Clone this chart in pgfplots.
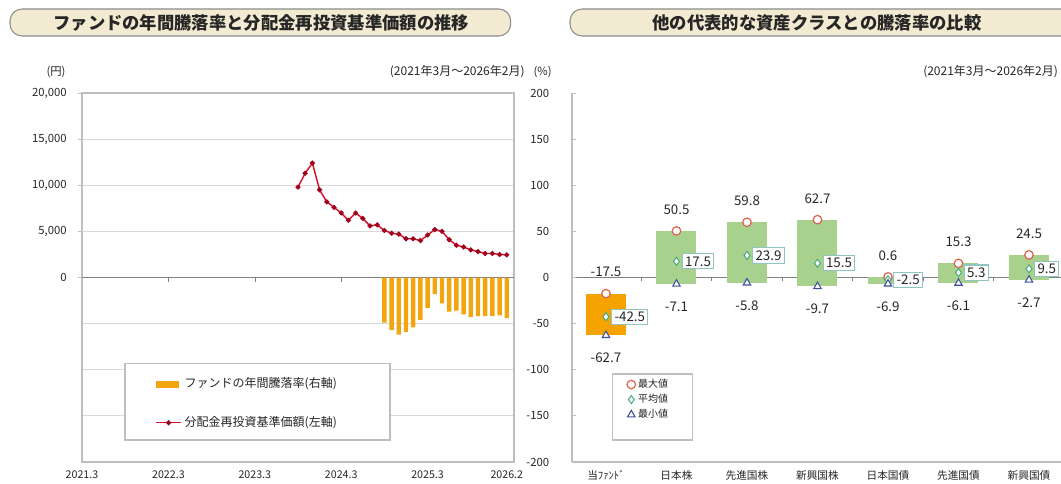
\documentclass[border=0pt]{standalone}
\usepackage{fontspec}
\setmainfont{Noto Sans CJK JP}
\usepackage{pgfplots}
\usepackage{pgfplotstable}
\pgfplotsset{compat=1.18}

\definecolor{gridc}{HTML}{D9D9D9}
\definecolor{axc}{HTML}{BFBFBF}
\definecolor{zeroc}{HTML}{808080}
\definecolor{labc}{HTML}{262626}
\definecolor{barc}{HTML}{F2A50F}
\definecolor{linec}{HTML}{D4142E}
\definecolor{markc}{HTML}{A0001C}
\definecolor{fundc}{HTML}{F5A300}
\definecolor{greenc}{HTML}{A9D18E}
\definecolor{maxc}{HTML}{E0604E}
\definecolor{meanc}{HTML}{4DAE7E}
\definecolor{minc}{HTML}{3F4FA0}
\definecolor{boxc}{HTML}{8FC4C0}
\definecolor{titlec}{HTML}{F3EAD2}
\definecolor{titleb}{HTML}{8C8C8C}

% monthly index: 0 = 2021.3, 59 = 2026.2
\pgfplotstableread{
m v
30 9800
31 11300
32 12400
33 9500
34 8200
35 7600
36 7000
37 6200
38 7000
39 6400
40 5600
41 5700
42 5100
43 4800
44 4700
45 4200
46 4200
47 4000
48 4600
49 5200
50 5000
51 4100
52 3500
53 3300
54 3000
55 2800
56 2600
57 2600
58 2500
59 2450
}\navtable

\pgfplotstableread{
m r
42 -49
43 -57
44 -62
45 -59
46 -54
47 -46
48 -33
49 -18
50 -28
51 -37
52 -36
53 -40
54 -43
55 -42
56 -42
57 -42
58 -41
59 -44
}\bartable

\pgfplotstableread{
x max mean min
0 -17.5 -42.5 -62.7
1 50.5 17.5 -7.1
2 59.8 23.9 -5.8
3 62.7 15.5 -9.7
4 0.6 -2.5 -6.9
5 15.3 5.3 -6.1
6 24.5 9.5 -2.7
}\cmptable

\begin{document}
\begin{tikzpicture}
\path[use as bounding box] (0,0) rectangle (795.75pt,-363pt);

% titles
\draw[titleb, fill=titlec, line width=0.8pt, rounded corners=9pt]
  (7.5pt,-6.75pt) rectangle (383pt,-27pt);
\node[font=\fontsize{13}{15}\selectfont\bfseries, text=labc] at (196pt,-16.9pt)
  {ファンドの年間騰落率と分配金再投資基準価額の推移};
\draw[titleb, fill=titlec, line width=0.8pt, rounded corners=9pt]
  (427.5pt,-6.75pt) rectangle (815pt,-27pt);
\node[font=\fontsize{13}{15}\selectfont\bfseries, text=labc] at (612.75pt,-16.9pt)
  {他の代表的な資産クラスとの騰落率の比較};

\node[font=\fontsize{8.5}{10}\selectfont, text=labc] at (42pt,-54pt) {(円)};
\node[font=\fontsize{9}{10}\selectfont, text=labc, anchor=east] at (397pt,-54pt) {(2021年3月～2026年2月)};
\node[font=\fontsize{8.5}{10}\selectfont, text=labc] at (407pt,-54pt) {(\%)};
\node[font=\fontsize{9}{10}\selectfont, text=labc, anchor=east] at (797pt,-54pt) {(2021年3月～2026年2月)};

% left chart: percent axis with bars
\begin{axis}[
  at={(61.5pt,-346.5pt)}, anchor=south west,
  scale only axis, width=324pt, height=276.75pt,
  xmin=0, xmax=60, ymin=-200, ymax=200,
  axis line style={draw=axc, line width=0.8pt},
  ytick={-200,-150,...,200}, ytick pos=right, yticklabel pos=right,
  yticklabel style={anchor=east, xshift=30pt, font=\fontsize{8.5}{10}\selectfont},
  ymajorgrids, major grid style={gridc, line width=0.7pt},
  major tick length=0pt,
  xtick={0,12,24,36,48,59},
  xticklabels={2021.3,2022.3,2023.3,2024.3,2025.3,2026.2},
  xticklabel style={yshift=-3pt, font=\fontsize{8}{10}\selectfont},
  tick label style={text=labc},
  /pgf/number format/assume math mode=true,
  extra y ticks={0}, extra y tick labels={},
  extra y tick style={major grid style={zeroc, line width=0.9pt}},
]
\addplot[ybar, bar width=3.3pt, fill=barc, draw=none] table[x=m, y=r]{\bartable};
\pgfplotsinvokeforeach{12,24,36}{\draw[zeroc] (axis cs:#1,0) -- ([yshift=-3pt]axis cs:#1,0);}
\end{axis}

% left chart: yen axis with line
\begin{axis}[
  at={(61.5pt,-346.5pt)}, anchor=south west,
  scale only axis, width=324pt, height=276.75pt,
  xmin=0, xmax=60, ymin=-20000, ymax=20000,
  axis line style={draw=none}, xtick=\empty,
  ytick={0,5000,...,20000}, ytick pos=left,
  scaled y ticks=false,
  /pgf/number format/1000 sep={,},
  /pgf/number format/assume math mode=true,
  tick align=outside, major tick length=3pt, tick style={axc, line width=0.7pt},
  yticklabel style={xshift=-5pt},
  tick label style={font=\fontsize{8.5}{10}\selectfont, text=labc},
  legend style={at={(0.169,0.236)}, anchor=north west, draw=none, fill=none,
    font=\fontsize{9}{10}\selectfont, text=labc, row sep=16pt, inner sep=0pt},
  legend cell align=left,
]
\draw[axc, line width=0.8pt, fill=white] (rel axis cs:0.0995,0.268) rectangle (rel axis cs:0.713,0.0596);
\addlegendimage{legend image code/.code={\fill[barc] (0pt,-2.2pt) rectangle (17pt,2.2pt);}}
\addlegendentry{ファンドの年間騰落率(右軸)}
\addplot[linec, line width=1.1pt, mark=*, mark size=1.3pt, mark options={fill=markc, draw=markc},
  legend image code/.code={\draw[linec, line width=1.1pt] (0pt,0pt) -- (19pt,0pt);
    \fill[markc] (9.5pt,0pt) circle (1.3pt);}]
  table[x=m, y=v]{\navtable};
\addlegendentry{分配金再投資基準価額(左軸)}
\end{axis}

% right chart
\begin{axis}[
  at={(429pt,-346.5pt)}, anchor=south west,
  scale only axis, width=366.75pt, height=276.75pt,
  xmin=-0.482, xmax=6.454, ymin=-200, ymax=200,
  axis x line*=bottom, axis y line*=left,
  axis line style={draw=axc, line width=0.8pt, -},
  ytick={-200,-150,...,200}, yticklabels={},
  tick align=inside, major tick length=3pt, ytick style={axc, line width=0.7pt},
  xtick={0,...,6},
  xticklabels={当ﾌｧﾝﾄﾞ,日本株,先進国株,新興国株,日本国債,先進国債,新興国債},
  xtick style={draw=none},
  xticklabel style={yshift=-3pt, font=\fontsize{8}{10}\selectfont, text=labc},
  extra y ticks={0}, extra y tick labels={},
  extra y tick style={grid=major, major grid style={zeroc, line width=0.9pt}},
  point meta=explicit symbolic,
  legend style={at={(0.112,0.232)}, anchor=north west, draw=none, fill=none,
    font=\fontsize{7.5}{9}\selectfont, text=labc, row sep=-0.5pt, inner sep=0pt},
  legend cell align=left,
  clip=false,
]
\pgfplotsinvokeforeach{0.5,1.5,2.5,3.5,4.5,5.5}{\draw[zeroc] (axis cs:#1,0) -- ([yshift=-2.5pt]axis cs:#1,0);}
\draw[axc, line width=0.8pt, fill=white] (rel axis cs:0.082,0.2385) rectangle (rel axis cs:0.2455,0.0596);
% floating bars from min to max
\addplot[draw=none, mark=none, forget plot, restrict x to domain=0:0,
  error bars/.cd, y dir=plus, y explicit, error mark=none,
  error bar style={line width=30pt, fundc}]
  table[x=x, y=min, y error plus expr=\thisrow{max}-\thisrow{min}]{\cmptable};
\addplot[draw=none, mark=none, forget plot, restrict x to domain=1:6,
  error bars/.cd, y dir=plus, y explicit, error mark=none,
  error bar style={line width=30pt, greenc}]
  table[x=x, y=min, y error plus expr=\thisrow{max}-\thisrow{min}]{\cmptable};
% markers and values
\addplot[only marks, mark=*, mark size=3.2pt, mark options={draw=maxc, fill=white, line width=0.9pt},
  nodes near coords, every node near coord/.append style={anchor=center, yshift=16pt,
    font=\fontsize{10}{12}\selectfont, text=labc}]
  table[x=x, y=max, meta=max]{\cmptable};
\addlegendentry{最大値}
\addplot[only marks, mark=diamond*, mark size=3pt, mark options={draw=meanc, fill=white, line width=0.8pt},
  nodes near coords, every node near coord/.append style={anchor=west, xshift=4pt,
    font=\fontsize{10}{12}\selectfont, text=labc, draw=boxc, fill=white, line width=0.8pt,
    inner sep=2pt}]
  table[x=x, y=mean, meta=mean]{\cmptable};
\addlegendentry{平均値}
\addplot[only marks, mark=triangle*, mark size=3.2pt, mark options={draw=minc, fill=white, line width=0.8pt},
  nodes near coords, every node near coord/.append style={anchor=center, yshift=-17pt,
    font=\fontsize{10}{12}\selectfont, text=labc}]
  table[x=x, y=min, meta=min]{\cmptable};
\addlegendentry{最小値}
\end{axis}
\end{tikzpicture}
\end{document}
